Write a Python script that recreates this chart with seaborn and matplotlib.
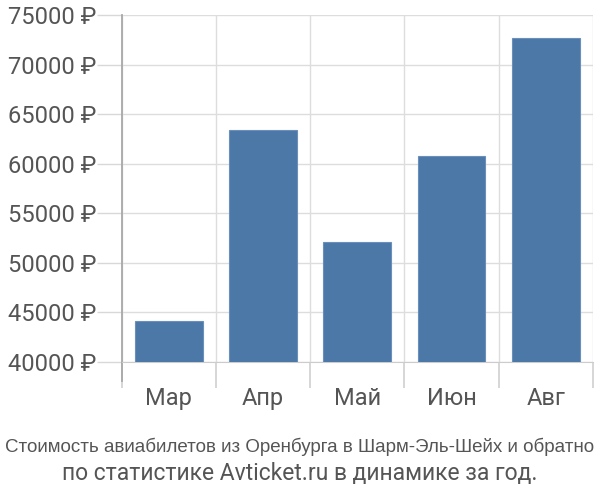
import matplotlib
matplotlib.use("Agg")
import matplotlib.pyplot as plt
import numpy as np
import pandas as pd
import seaborn as sns

# data
months = ["Мар", "Апр", "Май", "Июн", "Авг"]
prices = [44100, 63400, 52100, 60800, 72700]
yticks = [40000, 45000, 50000, 55000, 60000, 65000, 70000, 75000]
title_1 = "Стоимость авиабилетов из Оренбурга в Шарм-Эль-Шейх и обратно"
title_2 = "по статистике Avticket.ru в динамике за год."

sns.set_style("white")
plt.rcParams['font.family'] = ['Roboto', 'Liberation Sans', 'DejaVu Sans']

df = pd.DataFrame({"month": months, "price": prices})

fig = plt.figure(figsize=(6, 5), dpi=100)
ax = fig.add_axes([0.203, 0.276, 0.785, 0.694])

sns.barplot(data=df, x="month", y="price", color="#4c78a8", saturation=1,
            width=0.72, edgecolor="#6a8fbb", linewidth=0.8, ax=ax, zorder=3)

ax.set_ylim(40000, 75000)
ax.set_xlim(-0.5, len(months) - 0.5)
ax.set_yticks(yticks)
ax.set_yticklabels([f"{v} ₽" for v in yticks], fontsize=17, color="#555555")
ax.tick_params(axis="y", left=True, length=18, width=1, color="#d8d8d8", pad=0)

# category boundaries as major ticks (long lines), names as minor ticks
ax.set_xticks(np.arange(-0.5, len(months), 1.0))
ax.set_xticklabels([""] * (len(months) + 1))
ax.set_xticks(np.arange(len(months)), minor=True)
ax.set_xticklabels(months, minor=True, fontsize=17, color="#555555")
ax.tick_params(axis="x", which="major", bottom=True, length=19, width=1.2,
               color="#d0d0d0", direction="out")
ax.tick_params(axis="x", which="minor", bottom=True, length=0, pad=18)

ax.grid(True, axis="both", which="major", color="#dddddd", linewidth=1, zorder=0)
ax.set_axisbelow(True)
for s in ["top", "right"]:
    ax.spines[s].set_visible(False)
ax.spines["left"].set_color("#a8a8a8")
ax.spines["left"].set_linewidth(1.3)
ax.spines["left"].set_bounds(40000 - 35000 * 19 / 347, 75000)
ax.spines["bottom"].set_color("#cccccc")
ax.set_xlabel("")
ax.set_ylabel("")

fig.text(0.5, 0.106, title_1, ha="center", va="center", fontsize=13.5,
         color="#555555", fontstretch="condensed",
         family=['Liberation Sans Narrow', 'Liberation Sans', 'DejaVu Sans'])
fig.text(0.5, 0.052, title_2, ha="center", va="center", fontsize=16.5,
         color="#555555")

fig.savefig("out.png", dpi=100)
